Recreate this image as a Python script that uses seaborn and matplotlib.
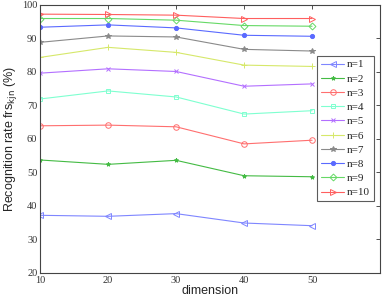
import matplotlib
matplotlib.use("Agg")
import matplotlib.pyplot as plt
import seaborn as sns
import pandas as pd

dims = [10, 20, 30, 40, 50]
series_names = ["n=1", "n=2", "n=3", "n=4", "n=5", "n=6", "n=7", "n=8", "n=9", "n=10"]
n1 = [37.2, 36.9, 37.7, 34.9, 34.1]
n2 = [53.7, 52.4, 53.6, 49.0, 48.7]
n3 = [63.9, 64.1, 63.6, 58.5, 59.6]
n4 = [71.9, 74.3, 72.5, 67.4, 68.4]
n5 = [79.6, 80.9, 80.1, 75.7, 76.4]
n6 = [84.3, 87.3, 85.8, 82.0, 81.6]
n7 = [88.8, 90.7, 90.4, 86.7, 86.2]
n8 = [93.3, 94.0, 93.1, 90.9, 90.6]
n9 = [95.9, 95.9, 95.4, 93.8, 93.6]
n10 = [97.2, 97.1, 96.9, 95.9, 95.9]
values = [n1, n2, n3, n4, n5, n6, n7, n8, n9, n10]

colors = ["#7f86ff", "#44bb44", "#ff6f6f", "#7fffd0", "#b36fff",
          "#d6e86a", "#8a8a8a", "#5a6aff", "#66d966", "#ff5f5f"]
markers = ["<", "*", "o", "s", "x", "+", "*", "o", "D", ">"]
open_m = [True, False, True, True, False, False, False, False, True, True]
msizes = [4.0, 3.0, 4.0, 3.2, 3.0, 4.0, 4.0, 3.0, 3.5, 4.0]

df = pd.DataFrame({
    "dimension": dims * len(series_names),
    "rate": sum(values, []),
    "n": [s for s in series_names for _ in dims],
})

sns.set_style("white")
fig = plt.figure(figsize=(3.82, 2.98), dpi=100)
ax = fig.add_axes([0.105, 0.084, 0.89, 0.9])

for i, name in enumerate(series_names):
    sub = df[df["n"] == name]
    kw = dict(marker=markers[i], markersize=msizes[i], markeredgewidth=0.7,
              color=colors[i], linewidth=0.8, label=name)
    if open_m[i]:
        kw["markerfacecolor"] = "none"
        kw["markeredgecolor"] = colors[i]
    else:
        kw["markerfacecolor"] = colors[i]
        kw["markeredgecolor"] = colors[i]
    sns.lineplot(data=sub, x="dimension", y="rate", ax=ax, **kw)

ax.set_xlim(10, 60)
ax.set_ylim(20, 100)
ax.set_xticks(dims)
ax.set_yticks(list(range(20, 101, 10)))
ax.tick_params(direction="in", top=True, right=True, length=3, width=0.6,
               labelsize=7.5, pad=2, colors="#333333")
for lab in ax.get_xticklabels() + ax.get_yticklabels():
    lab.set_family("Liberation Serif")
for sp in ax.spines.values():
    sp.set_color("#444444")
    sp.set_linewidth(0.8)

ax.set_xlabel("dimension", family="Liberation Sans", fontsize=9, labelpad=0)
ax.set_ylabel(r"Recognition rate frs$_{\mathrm{kjn}}$ (%)", family="Liberation Sans",
              fontsize=9, labelpad=2)

leg = ax.legend(loc="upper left", bbox_to_anchor=(0.815, 0.81),
                prop={"family": "Liberation Serif", "size": 8},
                frameon=True, fancybox=False, borderpad=0.35, labelspacing=0.4,
                handlelength=2.1, handletextpad=0.2, borderaxespad=0)
leg.get_frame().set_edgecolor("#333333")
leg.get_frame().set_linewidth(0.8)

fig.savefig("out.png", dpi=100)
